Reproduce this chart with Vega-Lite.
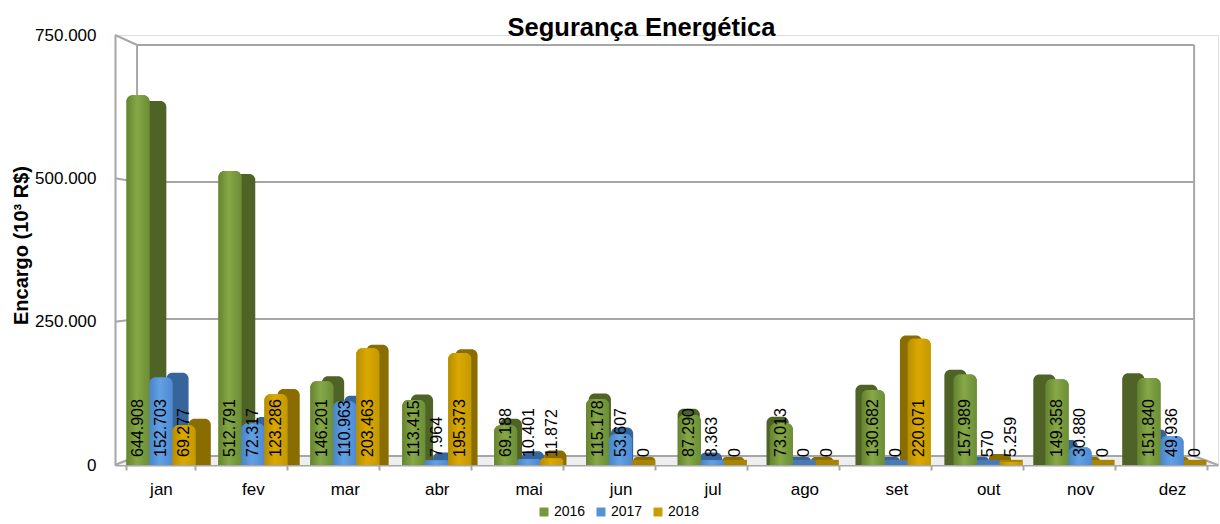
{"$schema":"https://vega.github.io/schema/vega-lite/v6.json","width":1103,"height":430,"autosize":{"type":"none"},"padding":{"left":115,"top":35,"right":2,"bottom":59},"background":"white",
"title":{"text":"Segurança Energética","font":"Liberation Sans","fontSize":25.5,"fontWeight":"bold","color":"#000000","anchor":"middle","dx":-25,"offset":-15},
"datasets":{
"parede":[
{"linha":"g750","x":0,"y":750000},{"linha":"g750","x":0.24,"y":732558},{"linha":"g750","x":11.74,"y":732558},
{"linha":"g500","x":0,"y":500000},{"linha":"g500","x":0.24,"y":493605},{"linha":"g500","x":11.74,"y":493605},
{"linha":"g250","x":0,"y":250000},{"linha":"g250","x":0.24,"y":254651},{"linha":"g250","x":11.74,"y":254651},
{"linha":"piso","x":0,"y":0},{"linha":"piso","x":0.24,"y":15698},{"linha":"piso","x":11.74,"y":15698},{"linha":"piso","x":12,"y":0},
{"linha":"esq","x":0.24,"y":732558},{"linha":"esq","x":0.24,"y":15698},
{"linha":"dir","x":11.74,"y":732558},{"linha":"dir","x":11.74,"y":15698}],
"encargo":[
{"mes":"jan","serie":"2016","valor":644908,"rotulo":"644.908"},{"mes":"jan","serie":"2017","valor":152703,"rotulo":"152.703"},{"mes":"jan","serie":"2018","valor":69277,"rotulo":"69.277"},
{"mes":"fev","serie":"2016","valor":512791,"rotulo":"512.791"},{"mes":"fev","serie":"2017","valor":72317,"rotulo":"72.317"},{"mes":"fev","serie":"2018","valor":123286,"rotulo":"123.286"},
{"mes":"mar","serie":"2016","valor":146201,"rotulo":"146.201"},{"mes":"mar","serie":"2017","valor":110963,"rotulo":"110.963"},{"mes":"mar","serie":"2018","valor":203463,"rotulo":"203.463"},
{"mes":"abr","serie":"2016","valor":113415,"rotulo":"113.415"},{"mes":"abr","serie":"2017","valor":7964,"rotulo":"7.964"},{"mes":"abr","serie":"2018","valor":195373,"rotulo":"195.373"},
{"mes":"mai","serie":"2016","valor":69188,"rotulo":"69.188"},{"mes":"mai","serie":"2017","valor":10401,"rotulo":"10.401"},{"mes":"mai","serie":"2018","valor":11872,"rotulo":"11.872"},
{"mes":"jun","serie":"2016","valor":115178,"rotulo":"115.178"},{"mes":"jun","serie":"2017","valor":53607,"rotulo":"53.607"},{"mes":"jun","serie":"2018","valor":0,"rotulo":"0"},
{"mes":"jul","serie":"2016","valor":87290,"rotulo":"87.290"},{"mes":"jul","serie":"2017","valor":8363,"rotulo":"8.363"},{"mes":"jul","serie":"2018","valor":0,"rotulo":"0"},
{"mes":"ago","serie":"2016","valor":73013,"rotulo":"73.013"},{"mes":"ago","serie":"2017","valor":0,"rotulo":"0"},{"mes":"ago","serie":"2018","valor":0,"rotulo":"0"},
{"mes":"set","serie":"2016","valor":130682,"rotulo":"130.682"},{"mes":"set","serie":"2017","valor":0,"rotulo":"0"},{"mes":"set","serie":"2018","valor":220071,"rotulo":"220.071"},
{"mes":"out","serie":"2016","valor":157989,"rotulo":"157.989"},{"mes":"out","serie":"2017","valor":570,"rotulo":"570"},{"mes":"out","serie":"2018","valor":5259,"rotulo":"5.259"},
{"mes":"nov","serie":"2016","valor":149358,"rotulo":"149.358"},{"mes":"nov","serie":"2017","valor":30880,"rotulo":"30.880"},{"mes":"nov","serie":"2018","valor":0,"rotulo":"0"},
{"mes":"dez","serie":"2016","valor":151840,"rotulo":"151.840"},{"mes":"dez","serie":"2017","valor":49936,"rotulo":"49.936"},{"mes":"dez","serie":"2018","valor":0,"rotulo":"0"}]},
"resolve":{"scale":{"x":"independent","y":"independent","color":"independent","xOffset":"independent"},"axis":{"x":"independent","y":"independent"}},
"layer":[
{"data":{"name":"parede"},"transform":[{"filter":"datum.linha=='piso'"}],"mark":{"type":"area","color":"#eeeeee"},
"encoding":{"x":{"field":"x","type":"quantitative","scale":{"domain":[0,12]},"axis":null},"y":{"field":"y","type":"quantitative","stack":null,"scale":{"domain":[0,750000],"nice":false},"axis":null}}},
{"data":{"name":"parede"},"mark":{"type":"line","color":"#a6a6a6","strokeWidth":2},
"encoding":{"x":{"field":"x","type":"quantitative","scale":{"domain":[0,12]},"axis":null},"y":{"field":"y","type":"quantitative","scale":{"domain":[0,750000],"nice":false},
"axis":{"values":[0,250000,500000,750000],"grid":false,"title":"Encargo (10³ R$)","titleFont":"Liberation Sans","titleFontSize":20,"titleFontWeight":"bold","titleColor":"#000000","titlePadding":3,"titleY":210,"labelFont":"Liberation Sans","labelFontSize":17,"labelColor":"#000000","labelPadding":4,"tickSize":15,"tickColor":"#a6a6a6","tickWidth":0,"domainColor":"#a6a6a6","domainWidth":2,"labelExpr":"replace(format(datum.value,','),',','.')"}},
"detail":{"field":"linha"}}},
{"data":{"name":"encargo"},"mark":{"type":"bar","cornerRadiusTopLeft":6,"cornerRadiusTopRight":6},
"encoding":{"x":{"field":"mes","type":"nominal","sort":null,"scale":{"domain":["jan","fev","mar","abr","mai","jun","jul","ago","set","out","nov","dez"],"range":[18,1085],"paddingInner":0.25,"paddingOuter":0.125},"axis":null},
"xOffset":{"field":"serie","type":"nominal"},
"y":{"field":"valor","type":"quantitative","stack":null,"scale":{"domain":[0,750000],"nice":false,"clamp":false,"range":[422,8]},"axis":null},
"y2":{"datum":-14493},
"color":{"field":"serie","type":"nominal","legend":null,"scale":{"domain":["2016","2017","2018"],"range":["#4f6326","#36659c","#8a6d00"]}}}},
{"data":{"name":"encargo"},"mark":{"type":"bar"},
"encoding":{"x":{"field":"mes","type":"nominal","sort":null,"scale":{"domain":["jan","fev","mar","abr","mai","jun","jul","ago","set","out","nov","dez"],"paddingInner":0.25,"paddingOuter":0.125},"axis":null},
"xOffset":{"field":"serie","type":"nominal"},
"y":{"datum":0,"type":"quantitative","scale":{"domain":[0,750000],"nice":false},"axis":null},
"y2":{"datum":9000},
"color":{"field":"serie","type":"nominal","legend":null,"scale":{"domain":["2016","2017","2018"],"range":["#5f7a30","#4a7ab5","#a88400"]}}}},
{"data":{"name":"encargo"},"mark":{"type":"bar","cornerRadiusTopLeft":6,"cornerRadiusTopRight":6},
"encoding":{"x":{"field":"mes","type":"nominal","sort":null,"scale":{"domain":["jan","fev","mar","abr","mai","jun","jul","ago","set","out","nov","dez"],"paddingInner":0.25,"paddingOuter":0.125},
"axis":{"title":null,"labelAngle":0,"labelFont":"Liberation Sans","labelFontSize":17,"labelColor":"#000000","labelPadding":11,"tickColor":"#a6a6a6","tickWidth":2,"tickSize":5,"tickBand":"extent","domainColor":"#a6a6a6","domainWidth":2,"grid":false}},
"xOffset":{"field":"serie","type":"nominal"},
"y":{"field":"valor","type":"quantitative","stack":null,"scale":{"domain":[0,750000],"nice":false},"axis":null},
"color":{"field":"serie","type":"nominal","title":null,
"scale":{"domain":["2016","2017","2018"],"range":["#76983c","#5692d8","#c99f00"]},
"legend":{"orient":"none","legendX":422,"legendY":470,"direction":"horizontal","columns":3,"symbolType":"square","symbolSize":80,"symbolStrokeWidth":0,"labelFont":"Liberation Sans","labelFontSize":14,"labelColor":"#000000","columnPadding":8,"padding":0,"labelOffset":3}}}},
{"data":{"name":"encargo"},"transform":[{"filter":"datum.serie=='2016'"}],"mark":{"type":"bar","cornerRadiusTopLeft":6,"cornerRadiusTopRight":6,"fill":{"gradient":"linear","x1":0,"x2":1,"y1":0,"y2":0,"stops":[{"offset":0,"color":"#64842f"},{"offset":0.45,"color":"#86a847"},{"offset":1,"color":"#6b8d35"}]}},
"encoding":{"x":{"field":"mes","type":"nominal","sort":null,"scale":{"domain":["jan","fev","mar","abr","mai","jun","jul","ago","set","out","nov","dez"],"paddingInner":0.25,"paddingOuter":0.125},"axis":null},
"xOffset":{"field":"serie","type":"nominal","scale":{"domain":["2016","2017","2018"]}},
"y":{"field":"valor","type":"quantitative","stack":null,"scale":{"domain":[0,750000],"nice":false},"axis":null}}},
{"data":{"name":"encargo"},"transform":[{"filter":"datum.serie=='2017'"}],"mark":{"type":"bar","cornerRadiusTopLeft":6,"cornerRadiusTopRight":6,"fill":{"gradient":"linear","x1":0,"x2":1,"y1":0,"y2":0,"stops":[{"offset":0,"color":"#4a84c9"},{"offset":0.45,"color":"#62a0e4"},{"offset":1,"color":"#4f8ad0"}]}},
"encoding":{"x":{"field":"mes","type":"nominal","sort":null,"scale":{"domain":["jan","fev","mar","abr","mai","jun","jul","ago","set","out","nov","dez"],"paddingInner":0.25,"paddingOuter":0.125},"axis":null},
"xOffset":{"field":"serie","type":"nominal","scale":{"domain":["2016","2017","2018"]}},
"y":{"field":"valor","type":"quantitative","stack":null,"scale":{"domain":[0,750000],"nice":false},"axis":null}}},
{"data":{"name":"encargo"},"transform":[{"filter":"datum.serie=='2018'"}],"mark":{"type":"bar","cornerRadiusTopLeft":6,"cornerRadiusTopRight":6,"fill":{"gradient":"linear","x1":0,"x2":1,"y1":0,"y2":0,"stops":[{"offset":0,"color":"#b58e00"},{"offset":0.45,"color":"#dba800"},{"offset":1,"color":"#c49a00"}]}},
"encoding":{"x":{"field":"mes","type":"nominal","sort":null,"scale":{"domain":["jan","fev","mar","abr","mai","jun","jul","ago","set","out","nov","dez"],"paddingInner":0.25,"paddingOuter":0.125},"axis":null},
"xOffset":{"field":"serie","type":"nominal","scale":{"domain":["2016","2017","2018"]}},
"y":{"field":"valor","type":"quantitative","stack":null,"scale":{"domain":[0,750000],"nice":false},"axis":null}}},
{"data":{"name":"encargo"},"mark":{"type":"text","angle":270,"align":"left","baseline":"middle","font":"Liberation Sans","fontSize":16,"color":"#000000"},
"encoding":{"x":{"field":"mes","type":"nominal","sort":null,"scale":{"domain":["jan","fev","mar","abr","mai","jun","jul","ago","set","out","nov","dez"],"paddingInner":0.25,"paddingOuter":0.125},"axis":null},
"xOffset":{"field":"serie","type":"nominal"},
"y":{"datum":14000,"type":"quantitative","scale":{"domain":[0,750000],"nice":false},"axis":null},
"text":{"field":"rotulo","type":"nominal"}}}
]}
